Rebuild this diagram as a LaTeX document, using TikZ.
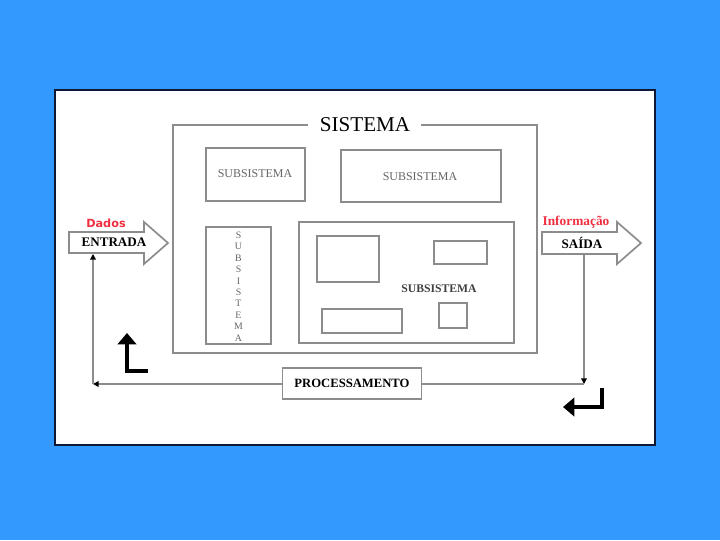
\documentclass[tikz,border=0pt]{standalone}
\usepackage{fontspec}
\setmainfont{Liberation Serif}
\setsansfont{DejaVu Sans}
\usepackage{tikz}
\usetikzlibrary{arrows.meta,positioning}
\usepackage{xcolor}
\definecolor{bgblue}{RGB}{51,153,255}
\definecolor{framenavy}{RGB}{16,24,56}
\definecolor{boxgray}{RGB}{140,140,140}
\definecolor{labelred}{RGB}{240,48,64}

\tikzset{
  subbox/.style={draw=boxgray, line width=1.2pt},
  subtext/.style={font=\fontsize{8.5}{9}\selectfont, text=black!60},
  flowline/.style={draw=boxgray, line width=1pt},
  flowtip/.style={-{Triangle[black,length=4pt,width=4pt]}},
  bigarrow/.style={draw=boxgray, fill=white, line width=1.2pt, line join=miter},
  ioname/.style={font=\fontsize{9.3}{10}\selectfont\bfseries},
  iolabel/.style={font=\fontsize{8}{9}\selectfont\bfseries, text=labelred},
  turnarrow/.style={line width=2.6pt, -{Triangle[length=8pt,width=13pt]}}
}

\begin{document}
\begin{tikzpicture}[x=0.025cm,y=-0.025cm]
\useasboundingbox (0,0) rectangle (720,540);
\fill[bgblue] (0,0) rectangle (720,540);
\draw[framenavy, line width=1.8pt, fill=white] (55,90) rectangle (655,445);

% sistema
\draw[boxgray, line width=1.4pt] (308,125) -- (173,125) -- (173,353) -- (537,353) -- (537,125) -- (421,125);
\node[font=\fontsize{15}{16}\selectfont] (sistema) at (365,124.5) {SISTEMA};

% subsistemas
\draw[subbox] (206,148) rectangle (305,201);
\node[subtext] (sub1) at (255,174) {SUBSISTEMA};
\draw[subbox] (341,150) rectangle (501,202);
\node[subtext] (sub2) at (420,177) {SUBSISTEMA};
\draw[subbox] (206,227) rectangle (271,344);
\node[subtext, font=\fontsize{7}{8.1}\selectfont, align=center] (sub3) at (238.5,286.5)
  {S\\U\\B\\S\\I\\S\\T\\E\\M\\A};
\draw[subbox] (299,222) rectangle (514,343);
\draw[subbox] (317,236) rectangle (379,282);
\draw[subbox] (434,241) rectangle (487,264);
\draw[subbox] (322,309) rectangle (402,333);
\draw[subbox] (439,303) rectangle (467,328);
\node[subtext, font=\fontsize{8.3}{9}\selectfont\bfseries, text=black!75] (sub4) at (439,289) {SUBSISTEMA};

% entrada e saida
\draw[bigarrow] (69,232) -- (144,232) -- (144,222) -- (168,243) -- (144,264) -- (144,253) -- (69,253) -- cycle;
\node[ioname] (entrada) at (114,242.5) {ENTRADA};
\node[iolabel, font=\sffamily\fontsize{8}{9}\selectfont\bfseries] (dados) at (106,223) {Dados};
\draw[bigarrow] (542,232) -- (617,232) -- (617,222) -- (641,243) -- (617,264) -- (617,254) -- (542,254) -- cycle;
\node[ioname] (saida) at (582,243) {SAÍDA};
\node[iolabel, font=\fontsize{9.5}{10}\selectfont\bfseries] (info) at (576,222) {Informação};

% processamento
\node[draw=boxgray, line width=1.2pt, minimum width=3.475cm, minimum height=0.775cm,
  font=\fontsize{9}{10}\selectfont\bfseries] (proc) at (352,383.5) {PROCESSAMENTO};

\coordinate (inFoot) at (93,254);
\coordinate (loopL) at (93,384);
\coordinate (outFoot) at (584,255);
\coordinate (loopR) at (584,384);
\draw[flowline, flowtip] (proc.west |- loopL) -- (loopL);
\draw[flowline, flowtip] (loopL) -- (inFoot);
\draw[flowline, flowtip] (outFoot) -- (loopR);
\draw[flowline] (proc.east |- loopR) -- (loopR);

% setas de retorno
\draw[turnarrow] (148,371) -- (127,371) -- (127,333);
\draw[turnarrow] (602,388) -- (602,407) -- (563,407);
\end{tikzpicture}
\end{document}
